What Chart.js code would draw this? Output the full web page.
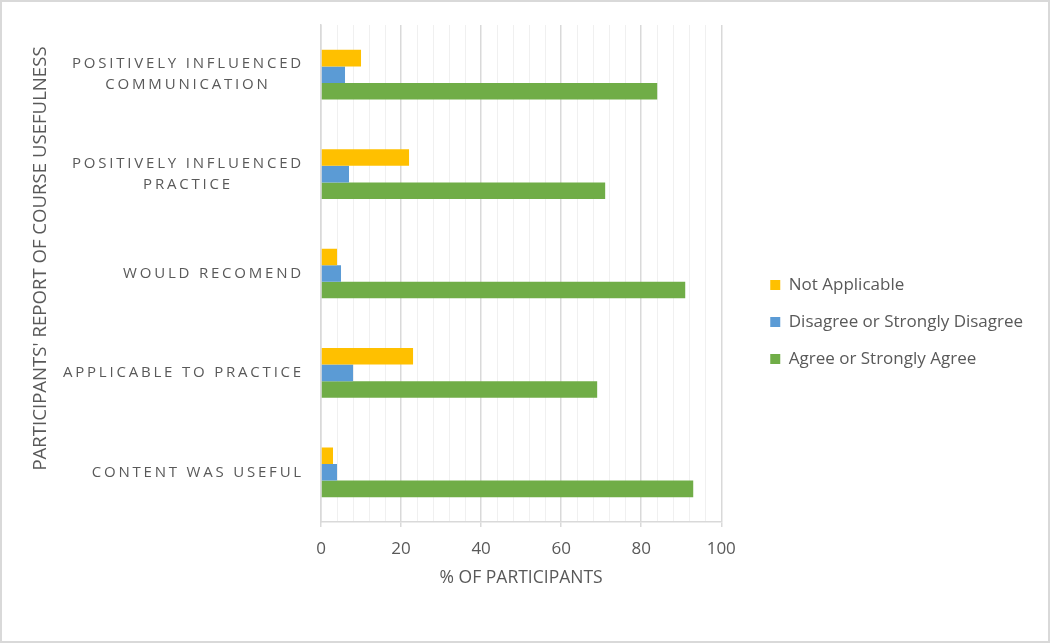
<!DOCTYPE html>
<html>
<head>
<meta charset="utf-8">
<script src="https://cdn.jsdelivr.net/npm/chart.js@4.4.1/dist/chart.umd.min.js"></script>
<style>
  html, body { margin: 0; padding: 0; background: #fff; }
  #wrap { width: 1050px; height: 643px; box-sizing: border-box; border: 2px solid #d9d9d9; background: #fff; }
  canvas { display: block; }
</style>
</head>
<body>
<div id="wrap"><canvas id="chart" width="1046" height="639"></canvas></div>
<script>
const categories = [
  ['POSITIVELY INFLUENCED', 'COMMUNICATION'],
  ['POSITIVELY INFLUENCED', 'PRACTICE'],
  'WOULD RECOMEND',
  'APPLICABLE TO PRACTICE',
  'CONTENT WAS USEFUL'
];
const notApplicable = [10, 22, 4, 23, 3];
const disagree = [6, 7, 5, 8, 4];
const agree = [84, 71, 91, 69, 93];

const textColor = '#595959';
const fontFamily = "'Open Sans', sans-serif";

// letter-spaced category labels, each multi-line label centred on its own block
function drawSpacedLabels(chartArea) {
  const ctx = this.ctx;
  const items = this.getLabelItems(chartArea);
  ctx.save();
  ctx.letterSpacing = '2.8px';
  ctx.fillStyle = textColor;
  ctx.textBaseline = 'middle';
  ctx.textAlign = 'center';
  for (const item of items) {
    const lines = Array.isArray(item.label) ? item.label : [item.label];
    const font = item.font;
    ctx.font = font.string;
    const w = Math.max(...lines.map(l => ctx.measureText(l).width));
    const [xr, y] = item.options.translation;
    const cx = xr - w / 2;
    lines.forEach((l, i) => {
      ctx.fillText(l, cx, y + item.textOffset + i * font.lineHeight);
    });
  }
  ctx.restore();
}

const tweaks = {
  id: 'tweaks',
  afterLayout(chart) {
    const lg = chart.legend;
    lg.left += 29;
    lg.right = chart.width;
    lg.width = lg.right - lg.left;
    lg.top -= 11; lg.bottom -= 11;
  },
  beforeDraw(chart) {
    const s = chart.scales.y;
    if (!s._spaced) {
      s.drawLabels = drawSpacedLabels;
      const origTitle = s.drawTitle;
      s.drawTitle = function () {
        this.ctx.save();
        this.ctx.translate(0, -15);
        origTitle.call(this);
        this.ctx.restore();
      };
      s._spaced = true;
    }
  }
};

const ctx = document.getElementById('chart').getContext('2d');
new Chart(ctx, {
  type: 'bar',
  data: {
    labels: categories,
    datasets: [
      { label: 'Not Applicable', data: notApplicable, backgroundColor: '#FFC000' },
      { label: 'Disagree or Strongly Disagree', data: disagree, backgroundColor: '#5B9BD5' },
      { label: 'Agree or Strongly Agree', data: agree, backgroundColor: '#70AD47' }
    ]
  },
  options: {
    indexAxis: 'y',
    responsive: false,
    animation: false,
    devicePixelRatio: 1,
    layout: { padding: { top: 23, right: 87, bottom: 0, left: 0 } },
    datasets: { bar: { categoryPercentage: 0.5, barPercentage: 1.0 } },
    plugins: {
      tooltip: { enabled: false },
      legend: {
        position: 'right',
        labels: {
          boxWidth: 10, boxHeight: 10, padding: 20,
          color: textColor,
          font: { family: fontFamily, size: 17 }
        }
      }
    },
    scales: {
      x: {
        min: 0, max: 100,
        afterFit(scale) { scale.height = 119; },
        ticks: {
          stepSize: 4, autoSkip: false, maxRotation: 0, padding: 12,
          color: textColor,
          font: { family: fontFamily, size: 17 },
          callback: v => (v % 20 === 0 ? v : '')
        },
        grid: {
          color: c => (c.tick && c.tick.value % 20 === 0 ? '#d9d9d9' : '#f0f0f0'),
          lineWidth: c => (c.tick && c.tick.value % 20 === 0 ? 1.5 : 1),
          tickColor: c => (c.tick && c.tick.value % 20 === 0 ? '#d9d9d9' : 'rgba(0,0,0,0)'),
          tickLength: 5
        },
        border: { color: '#d9d9d9', width: 1.5 },
        title: {
          display: true, text: '% OF PARTICIPANTS', color: textColor,
          font: { family: fontFamily, size: 17.5 },
          padding: { top: 0, bottom: 52 }
        }
      },
      y: {
        afterFit(scale) {
          scale.width = 319;
          scale.paddingTop = 0;
          scale.paddingBottom = 0;
        },
        ticks: {
          padding: 17, color: textColor,
          font: { family: fontFamily, size: 15, lineHeight: 1.4 }
        },
        grid: { display: false, drawTicks: false },
        border: { color: '#d9d9d9', width: 1.5 },
        title: {
          display: true, text: "PARTICIPANTS' REPORT OF COURSE USEFULNESS", color: textColor,
          font: { family: fontFamily, size: 18.6 },
          padding: { top: 28, bottom: 0 }
        }
      }
    }
  },
  plugins: [tweaks]
});
</script>
</body>
</html>
